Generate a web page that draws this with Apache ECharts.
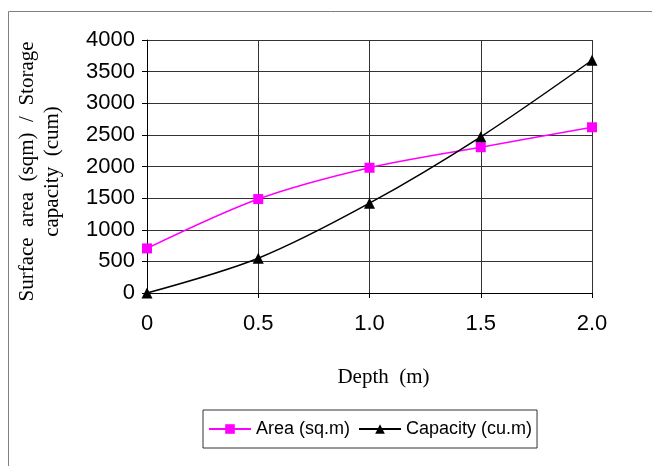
<!DOCTYPE html>
<html>
<head>
<meta charset="utf-8">
<script src="https://cdn.jsdelivr.net/npm/echarts@6/dist/echarts.min.js"></script>
<style>
  html, body { margin: 0; padding: 0; background: #fff; }
  #chart { width: 652px; height: 466px; }
</style>
</head>
<body>
<div id="chart"></div>
<script>
var depths = [0, 0.5, 1.0, 1.5, 2.0];
var areaValues = [705, 1485, 1980, 2305, 2620];
var capacityValues = [0, 550, 1420, 2470, 3680];
var seriesNames = ['Area (sq.m)', 'Capacity (cu.m)'];

function pairs(xs, ys) {
    return xs.map(function (x, i) { return [x, ys[i]]; });
}

var myChart = echarts.init(document.getElementById('chart'));
var option = {
    animation: false,
    backgroundColor: '#fff',
    graphic: [{
        type: 'rect',
        shape: { x: 8.5, y: 11.5, width: 700, height: 500 },
        style: { fill: 'none', stroke: '#808080', lineWidth: 1 },
        silent: true
    }],
    grid: { left: 147, right: 60, top: 40, bottom: 173 },
    legend: {
        left: 203,
        top: 410,
        padding: [10, 5],
        itemGap: 8,
        itemWidth: 42,
        itemHeight: 12,
        borderColor: '#333',
        borderWidth: 1,
        textStyle: { fontFamily: 'Liberation Sans', fontSize: 18, color: '#000' },
        data: seriesNames
    },
    xAxis: {
        type: 'value',
        min: 0,
        max: 2,
        interval: 0.5,
        name: 'Depth  (m)',
        nameLocation: 'middle',
        nameGap: 74,
        nameTextStyle: { fontFamily: 'Liberation Serif', fontSize: 21, color: '#000', padding: [0, 0, 0, 28] },
        axisLine: { lineStyle: { color: '#000', width: 1 } },
        axisTick: { show: true, length: 5, lineStyle: { color: '#000' } },
        axisLabel: {
            margin: 20,
            fontFamily: 'Liberation Sans',
            fontSize: 22,
            color: '#000',
            formatter: function (v) { return v === 0 ? '0' : v.toFixed(1); }
        },
        splitLine: { show: true, lineStyle: { color: '#333', width: 1 } }
    },
    yAxis: {
        type: 'value',
        min: 0,
        max: 4000,
        interval: 500,
        name: 'Surface  area  (sqm)  /  Storage\ncapacity  (cum)',
        nameLocation: 'middle',
        nameGap: 82,
        nameRotate: 90,
        nameTextStyle: { fontFamily: 'Liberation Serif', fontSize: 21, color: '#000', lineHeight: 25, align: 'center', padding: [0, 0, 0, -10] },
        axisLine: { show: true, lineStyle: { color: '#000', width: 1 } },
        axisTick: { show: true, length: 5, lineStyle: { color: '#000' } },
        axisLabel: {
            margin: 12,
            fontFamily: 'Liberation Sans',
            fontSize: 22,
            color: '#000',
            formatter: function (v) { return String(v); }
        },
        splitLine: { show: true, lineStyle: { color: '#333', width: 1 } }
    },
    series: [{
        name: seriesNames[0],
        type: 'line',
        smooth: 0.3,
        data: pairs(depths, areaValues),
        symbol: 'rect',
        symbolSize: 10,
        color: '#ff00ff',
        lineStyle: { color: '#ff00ff', width: 1.5 },
        itemStyle: { color: '#ff00ff' }
    }, {
        name: seriesNames[1],
        type: 'line',
        smooth: 0.3,
        data: pairs(depths, capacityValues),
        symbol: 'triangle',
        symbolSize: 11,
        color: '#000',
        lineStyle: { color: '#000', width: 1.5 },
        itemStyle: { color: '#000' }
    }]
};
myChart.setOption(option);
</script>
</body>
</html>
